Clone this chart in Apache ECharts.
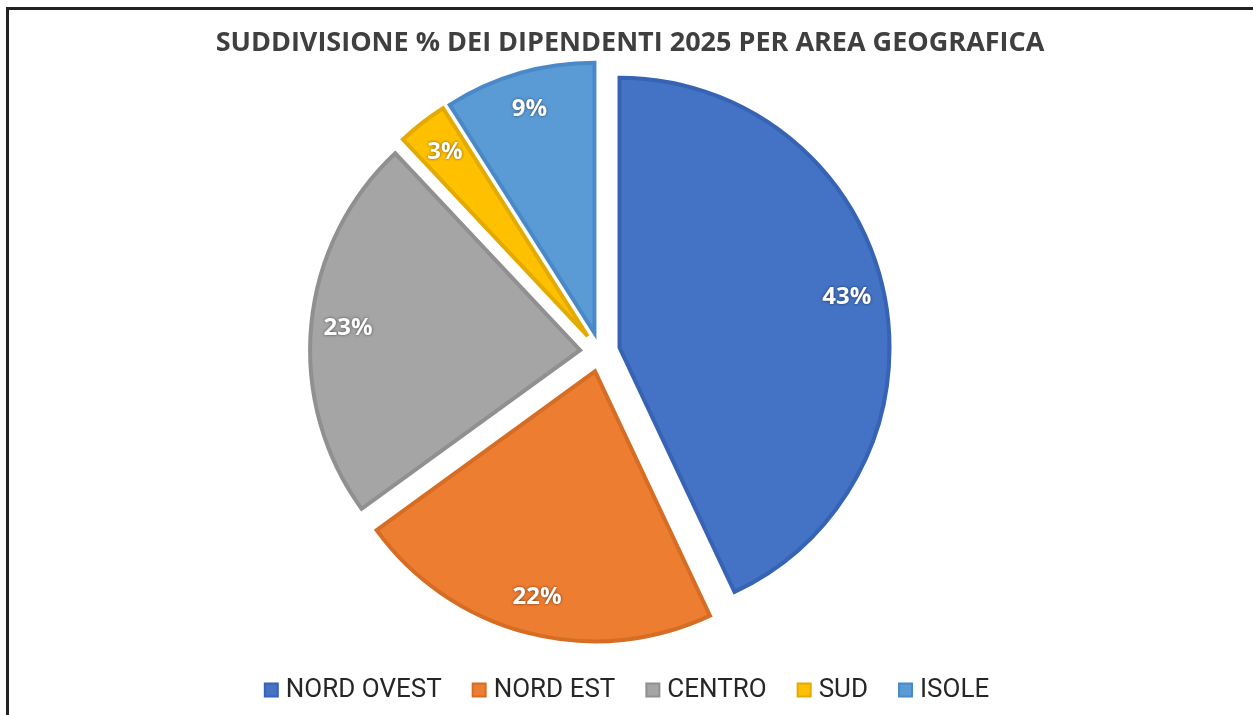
<!DOCTYPE html>
<html>
<head>
<meta charset="utf-8">
<script src="https://cdn.jsdelivr.net/npm/echarts@6/dist/echarts.min.js"></script>
<style>
  html, body { margin: 0; padding: 0; background: #fff; width: 1253px; height: 715px; overflow: hidden; }
  #frame { position: absolute; left: 6px; top: 7px; width: 1300px; height: 760px;
           border-left: 3px solid #222; border-top: 3px solid #222; }
  #chart { position: absolute; left: 0; top: 0; width: 1253px; height: 715px; }
</style>
</head>
<body>
<div id="frame"></div>
<div id="chart"></div>
<script>
const titleText = 'SUDDIVISIONE % DEI DIPENDENTI 2025 PER AREA GEOGRAFICA';
const categories = ['NORD OVEST', 'NORD EST', 'CENTRO', 'SUD', 'ISOLE'];
const values = [43, 22, 23, 3, 9];
const colors = ['#4472C4', '#ED7D31', '#A5A5A5', '#FFC000', '#5B9BD5'];
const borderColors = ['#3663B3', '#D66D24', '#909090', '#E3AA00', '#4A89C8'];

const chart = echarts.init(document.getElementById('chart'), null, { renderer: 'canvas' });

const mainData = categories.map((name, i) => ({
  name, value: values[i], selected: true,
  itemStyle: { color: colors[i], borderColor: borderColors[i] }
}));
const labelData = categories.map((name, i) => ({
  name, value: values[i], selected: true
}));

chart.setOption({
  animation: false,
  backgroundColor: 'transparent',
  title: {
    text: titleText,
    left: 625,
    textAlign: 'center',
    top: 25,
    textStyle: { fontFamily: 'Open Sans', fontWeight: 'bold', fontSize: 27, color: '#3F3F3F' }
  },
  legend: {
    data: categories,
    bottom: 7,
    left: 'center',
    icon: 'rect',
    itemWidth: 13,
    itemHeight: 13,
    itemGap: 30,
    textStyle: { fontFamily: 'Roboto', fontSize: 26, color: '#262626', padding: [0, 0, 0, 3] }
  },
  series: [
    {
      type: 'pie',
      center: [600, 352],
      radius: [0, 270],
      startAngle: 90,
      clockwise: true,
      selectedMode: 'multiple',
      selectedOffset: 20,
      avoidLabelOverlap: false,
      label: { show: false },
      labelLine: { show: false },
      itemStyle: { borderWidth: 4, borderJoin: 'miter' },
      emphasis: { disabled: true },
      data: mainData
    },
    {
      type: 'pie',
      center: [600, 352],
      radius: [190, 270],
      startAngle: 90,
      clockwise: true,
      selectedMode: 'multiple',
      selectedOffset: 20,
      silent: true,
      avoidLabelOverlap: false,
      itemStyle: { color: 'rgba(0,0,0,0)', borderWidth: 0 },
      label: {
        show: true,
        position: 'inside',
        formatter: '{c}%',
        fontFamily: 'Open Sans',
        fontWeight: 'bold',
        fontSize: 24,
        color: '#ffffff',
        textShadowColor: 'rgba(0,0,0,0.55)',
        textShadowBlur: 3
      },
      labelLine: { show: false },
      emphasis: { disabled: true },
      data: labelData
    }
  ]
});
</script>
</body>
</html>
